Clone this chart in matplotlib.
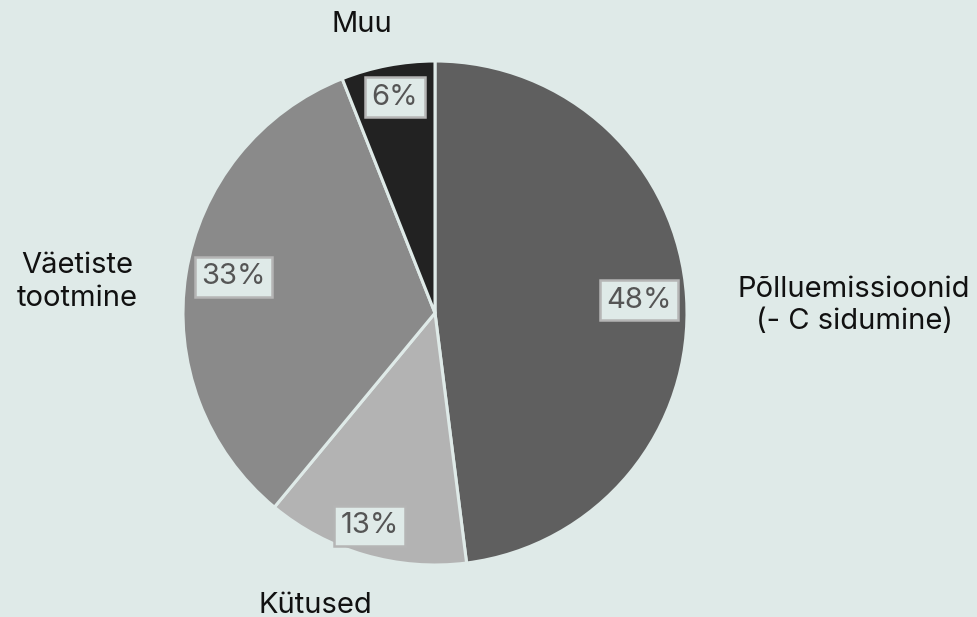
import numpy as np
import matplotlib.pyplot as plt

plt.rcParams['font.family'] = ['Inter', 'DejaVu Sans']

# ===== data
labels = ['Põlluemissioonid\n(- C sidumine)', 'Kütused', 'Väetiste\ntootmine', 'Muu']
values = [48, 13, 33, 6]
colors = ['#5f5f5f', '#b3b3b3', '#8a8a8a', '#222222']

# label placement (pie units, radius = 1)
pct_pos = [(0.81, 0.05), (-0.26, -0.845), (-0.80, 0.143), (-0.159, 0.857)]
name_pos = [(1.663, 0.03), (-0.476, -1.16), (-1.42, 0.123), (-0.29, 1.143)]

bg = '#dfeae8'

fig = plt.figure(figsize=(9.78, 6.17), dpi=100, facecolor=bg)
ax = fig.add_axes([0, 0, 1, 1])
ax.set_facecolor(bg)

wedges, _ = ax.pie(values, colors=colors, startangle=90, counterclock=False,
                   radius=1, center=(0, 0),
                   wedgeprops=dict(edgecolor=bg, linewidth=2.2))

total = sum(values)
for v, (x, y) in zip(values, pct_pos):
    ax.text(x, y, '%d%%' % round(100 * v / total), ha='center', va='center',
            fontsize=21, color='#555555',
            bbox=dict(boxstyle='square,pad=0.22', facecolor=bg, edgecolor='#b5b5b5', linewidth=1.8))

for lab, (x, y) in zip(labels, name_pos):
    ax.text(x, y, lab, ha='center', va='center', fontsize=21, color='#111111',
            linespacing=1.25)

ax.set_xlim(-435 / 252, (978 - 435) / 252)
ax.set_ylim(-(617 - 313) / 252, 313 / 252)
ax.set_aspect('equal')
ax.axis('off')

fig.savefig('out.png', dpi=100, facecolor=bg)
